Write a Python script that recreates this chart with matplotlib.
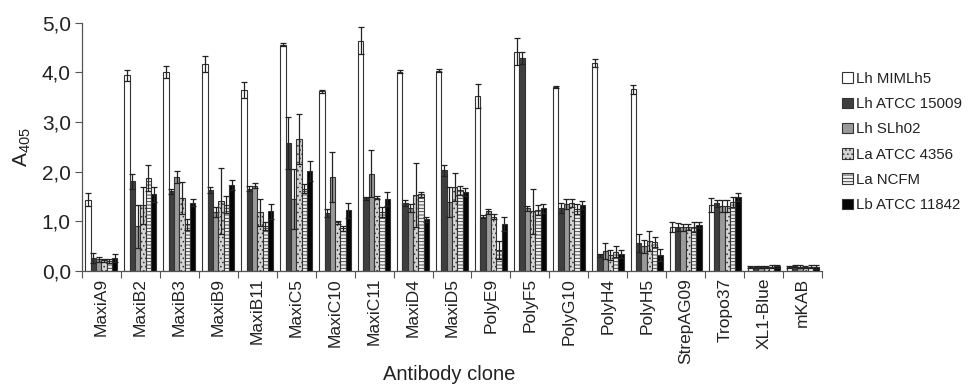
import matplotlib
matplotlib.use("Agg")
import matplotlib.pyplot as plt
import numpy as np

plt.rcParams['font.family'] = ['Liberation Sans', 'DejaVu Sans']
plt.rcParams['mathtext.fontset'] = 'custom'
plt.rcParams['mathtext.rm'] = 'Liberation Sans'
plt.rcParams['mathtext.it'] = 'Liberation Sans'
plt.rcParams['hatch.linewidth'] = 0.6

categories = ['MaxiA9', 'MaxiB2', 'MaxiB3', 'MaxiB9', 'MaxiB11', 'MaxiC5', 'MaxiC10',
              'MaxiC11', 'MaxiD4', 'MaxiD5', 'PolyE9', 'PolyF5', 'PolyG10', 'PolyH4',
              'PolyH5', 'StrepAG09', 'Tropo37', 'XL1-Blue', 'mKAB']

series_names = ['Lh MIMLh5', 'Lh ATCC 15009', 'Lh SLh02', 'La ATCC 4356', 'La NCFM', 'Lb ATCC 11842']

lh_mimlh5 = [1.43, 3.94, 4.01, 4.16, 3.64, 4.55, 3.62, 4.63, 4.01, 4.03, 3.52, 4.41, 3.71, 4.18, 3.66, 0.89, 1.33, 0.09, 0.08]
lh_mimlh5_err = [0.13, 0.11, 0.12, 0.16, 0.16, 0.03, 0.03, 0.27, 0.03, 0.03, 0.25, 0.27, 0.02, 0.08, 0.09, 0.10, 0.14, 0.02, 0.02]

lh_atcc15009 = [0.27, 1.81, 1.60, 1.63, 1.66, 2.58, 1.16, 1.46, 1.36, 2.03, 1.09, 4.28, 1.26, 0.32, 0.56, 0.88, 1.36, 0.09, 0.10]
lh_atcc15009_err = [0.10, 0.15, 0.06, 0.06, 0.05, 0.52, 0.08, 0.03, 0.06, 0.11, 0.03, 0.12, 0.10, 0.03, 0.18, 0.08, 0.07, 0.02, 0.02]

lh_slh02 = [0.24, 0.90, 1.89, 1.19, 1.72, 1.45, 1.89, 1.96, 1.27, 1.39, 1.20, 1.26, 1.35, 0.41, 0.50, 0.88, 1.31, 0.09, 0.09]
lh_slh02_err = [0.05, 0.43, 0.12, 0.10, 0.05, 0.60, 0.50, 0.47, 0.08, 0.30, 0.05, 0.05, 0.10, 0.16, 0.13, 0.07, 0.12, 0.02, 0.03]

la_atcc4356 = [0.22, 1.32, 1.47, 1.41, 1.18, 2.66, 0.98, 1.47, 1.53, 1.69, 1.09, 1.20, 1.36, 0.33, 0.61, 0.88, 1.31, 0.09, 0.09]
la_atcc4356_err = [0.03, 0.38, 0.33, 0.66, 0.27, 0.50, 0.03, 0.03, 0.64, 0.28, 0.05, 0.45, 0.08, 0.10, 0.20, 0.06, 0.12, 0.02, 0.02]

la_ncfm = [0.21, 1.87, 0.94, 1.33, 0.90, 1.66, 0.86, 1.19, 1.54, 1.62, 0.42, 1.22, 1.25, 0.39, 0.59, 0.89, 1.39, 0.09, 0.09]
la_ncfm_err = [0.04, 0.27, 0.11, 0.17, 0.08, 0.10, 0.05, 0.10, 0.05, 0.10, 0.18, 0.10, 0.10, 0.11, 0.10, 0.10, 0.10, 0.03, 0.03]

lb_atcc11842 = [0.26, 1.54, 1.37, 1.73, 1.20, 2.01, 1.22, 1.45, 1.04, 1.59, 0.94, 1.26, 1.33, 0.34, 0.32, 0.92, 1.49, 0.10, 0.09]
lb_atcc11842_err = [0.08, 0.15, 0.07, 0.11, 0.15, 0.20, 0.15, 0.14, 0.05, 0.08, 0.14, 0.09, 0.08, 0.08, 0.12, 0.06, 0.08, 0.03, 0.04]

values = [lh_mimlh5, lh_atcc15009, lh_slh02, la_atcc4356, la_ncfm, lb_atcc11842]
errors = [lh_mimlh5_err, lh_atcc15009_err, lh_slh02_err, la_atcc4356_err, la_ncfm_err, lb_atcc11842_err]

styles = [
    dict(facecolor='white', hatch=None),
    dict(facecolor='#3f3f3f', hatch=None),
    dict(facecolor='#9a9a9a', hatch=None),
    dict(facecolor='#d4d4d4', hatch='....'),
    dict(facecolor='#f0f0f0', hatch='-----'),
    dict(facecolor='#050505', hatch=None),
]

fig = plt.figure(figsize=(9.70, 3.88), dpi=100)
ax = fig.add_axes([0.0845, 0.3015, 0.763, 0.6405])

x = np.arange(len(categories))
n = len(series_names)
group_w = 0.82
bw = group_w / n
edge = '#333333'

handles = []
for i in range(n):
    off = -group_w / 2 + bw * (i + 0.5)
    st = styles[i]
    b = ax.bar(x + off, values[i], width=bw, facecolor=st['facecolor'], hatch=st['hatch'],
               edgecolor=edge, linewidth=0.8, label=series_names[i], zorder=2)
    handles.append(b)
for i in range(n):
    off = -group_w / 2 + bw * (i + 0.5)
    ax.errorbar(x + off, values[i], yerr=errors[i], fmt='none', ecolor='#222222',
                elinewidth=0.9, capsize=2.3, capthick=0.9, zorder=3)

ax.set_xlim(-0.5, len(categories) - 0.5)
ax.set_ylim(0, 5.0)
ax.set_yticks(np.arange(0, 5.01, 1.0))
ax.set_yticklabels([f"{v:.1f}".replace('.', ',') for v in np.arange(0, 5.01, 1.0)], fontsize=15, color='#222222')
ax.set_xticks(np.arange(-0.5, len(categories), 1.0))
ax.set_xticklabels([])
ax.set_xticks(x, minor=True)
ax.set_xticklabels(categories, minor=True, rotation=90, fontsize=12.5, color='#222222')
ax.tick_params(axis='x', which='major', length=5, width=0.8, color='#555555', direction='out')
ax.tick_params(axis='x', which='minor', length=0, pad=5)
ax.tick_params(axis='y', length=5, width=0.8, color='#555555', direction='out', pad=3)

for s in ['top', 'right']:
    ax.spines[s].set_visible(False)
for s in ['left', 'bottom']:
    ax.spines[s].set_color('#555555')
    ax.spines[s].set_linewidth(0.9)

ax.set_ylabel(r'$\mathrm{A}_{405}$', fontsize=15, color='#222222', labelpad=6)
fig.text(449 / 970, 1 - 374 / 388, 'Antibody clone', fontsize=14.5, color='#222222',
         ha='center', va='center')

leg = fig.legend(handles=handles, labels=series_names, loc='upper left',
                 bbox_to_anchor=(0.862, 0.83), frameon=False, fontsize=10.8,
                 handlelength=0.7, handleheight=0.7, handletextpad=0.2,
                 labelspacing=0.75, borderaxespad=0)
for t in leg.get_texts():
    t.set_color('#222222')

fig.savefig('out.png', dpi=100)
